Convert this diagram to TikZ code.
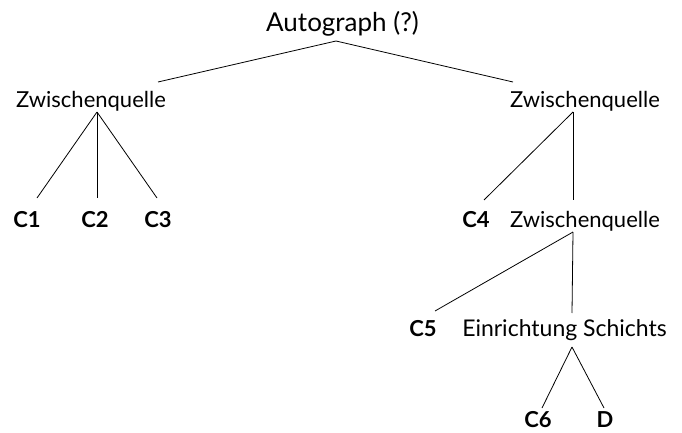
\documentclass[tikz,border=0pt]{standalone}
\usepackage{fontspec}
\setmainfont{Lato}
\usetikzlibrary{calc}

\tikzset{
  lbl/.style={anchor=base, inner sep=0pt, font=\fontsize{22}{24}\selectfont},
  leaf/.style={lbl, font=\fontsize{22}{24}\selectfont\bfseries},
  edge/.style={line width=0.8pt}
}

\begin{document}
\begin{tikzpicture}[x=1pt,y=1pt,yscale=-1,xscale=1]
\useasboundingbox (0,0) rectangle (682,433);

% Knoten
\node [lbl, font=\fontsize{26}{28}\selectfont] (auto) at (342.5,32) {Autograph (?)};
\node [lbl] (zl) at (91,107) {Zwischenquelle};
\node [lbl] (zr) at (585,107) {Zwischenquelle};
\node [leaf] (c1) at (27,227) {C1};
\node [leaf] (c2) at (95,227) {C2};
\node [leaf] (c3) at (158,227) {C3};
\node [leaf] (c4) at (476,227) {C4};
\node [lbl] (zm) at (585,227) {Zwischenquelle};
\node [leaf] (c5) at (423,336) {C5};
\node [lbl, font=\fontsize{23}{25}\selectfont] (es) at (564.5,336) {Einrichtung Schichts};
\node [leaf] (c6) at (538,427) {C6};
\node [leaf] (d) at (605,427) {D};

% Linien
\draw [edge] ($(auto.base)+(-6.5,9)$) -- ($(zl.base)+(67,-25)$);
\draw [edge] ($(auto.base)+(-6.5,9)$) -- ($(zr.base)+(-72,-25)$);
\draw [edge] ($(zl.base)+(6,5)$) -- ($(c1.base)+(10,-29)$);
\draw [edge] ($(zl.base)+(6,5)$) -- ($(c2.base)+(2,-29)$);
\draw [edge] ($(zl.base)+(6,5)$) -- ($(c3.base)+(-1,-29)$);
\draw [edge] ($(zr.base)+(-12,5)$) -- ($(c4.base)+(8,-27)$);
\draw [edge] ($(zr.base)+(-12,5)$) -- ($(zm.base)+(-12,-27)$);
\draw [edge] ($(zm.base)+(-12,5)$) -- ($(c5.base)+(12,-25)$);
\draw [edge] ($(zm.base)+(-12,5)$) -- ($(es.base)+(7.5,-23)$);
\draw [edge] ($(es.base)+(7.5,11)$) -- ($(c6.base)+(4,-19)$);
\draw [edge] ($(es.base)+(7.5,11)$) -- ($(d.base)+(-1,-19)$);

\end{tikzpicture}
\end{document}
